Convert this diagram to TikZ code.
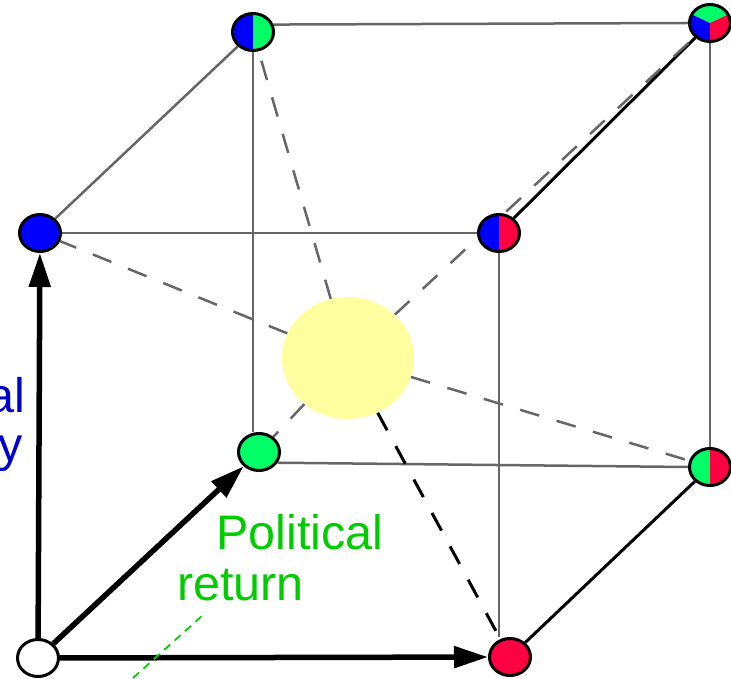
\documentclass[tikz,border=0pt]{standalone}
\usepackage{fontspec}
\setmainfont{Liberation Sans}
\usetikzlibrary{shapes.geometric,arrows.meta}
\definecolor{vblue}{RGB}{0,0,255}
\definecolor{vgreen}{RGB}{0,255,102}
\definecolor{vred}{RGB}{255,0,64}
\definecolor{sunyellow}{RGB}{255,255,160}
\definecolor{edgegray}{RGB}{102,102,102}
\definecolor{txtgreen}{RGB}{0,204,0}
\definecolor{txtblue}{RGB}{0,0,204}
\pgfdeclarelayer{bg}
\pgfsetlayers{bg,main}
\begin{document}
\begin{tikzpicture}[x=1pt, y=1pt, >={Triangle[length=34pt,width=21pt]},
		vertex/.style={ellipse, draw, line width=3pt, minimum width=41pt, minimum height=37pt, inner sep=0pt},
		halves/.style 2 args={path picture={
				\fill[#1] (path picture bounding box.south west) rectangle (path picture bounding box.north);
				\fill[#2] (path picture bounding box.south) rectangle (path picture bounding box.north east);}},
		thirds/.style={path picture={
				\fill[vgreen] (path picture bounding box.center) -- +(155:40) -- +(90:40) -- +(25:40) -- cycle;
				\fill[vblue] (path picture bounding box.center) -- +(155:40) -- +(210:40) -- +(270:40) -- cycle;
				\fill[vred] (path picture bounding box.center) -- +(270:40) -- +(330:40) -- +(25:40) -- cycle;}},
		edge/.style={edgegray, line width=2.5pt},
		rim/.style={black, line width=3pt},
		spoke/.style={edgegray, line width=2.5pt, dash pattern=on 20pt off 18pt},
		axis/.style={->, line width=5.5pt},
		lbl/.style={inner sep=0pt, font=\fontsize{48.5}{58}\selectfont}]
	\useasboundingbox (0,0) rectangle (731,678);
	\node[fill=sunyellow, ellipse, minimum width=132pt, minimum height=122pt, inner sep=0pt] (sun) at (348,320) {};
	\node[vertex, fill=white] (w) at (38,20) {};
	\node[vertex, fill=vred] (r) at (510,21) {};
	\node[vertex, fill=vblue] (b) at (40,445) {};
	\node[vertex, halves={vblue}{vred}] (br) at (499,445) {};
	\node[vertex, fill=vgreen] (g) at (259,226) {};
	\node[vertex, halves={vgreen}{vred}] (gr) at (710,211) {};
	\node[vertex, halves={vblue}{vgreen}] (bg) at (253,646) {};
	\node[vertex, thirds] (tri) at (710,655) {};
	\begin{pgfonlayer}{bg}
		\draw[edge] (b) -- (bg);
		\draw[edge] (b) -- (br);
		\draw[edge] (bg.20) -- (tri.west);
		\draw[edge] (bg) -- (bg |- g.north);
		\draw[edge] (tri) -- (gr);
		\draw[edge] (g.-30) -- (gr.west);
		\draw[edge] (br) -- (br |- r.north);
		\draw[rim] (br) -- (tri);
		\draw[rim] (gr) -- (r);
		\foreach \v in {b, bg, tri, g, gr}
			\draw[spoke] (sun) -- (\v);
		\draw[spoke, black, line width=3pt] (sun) -- (r);
		\draw[axis] (w) -- (b);
		\draw[axis] (w) -- (g);
		\draw[axis] (w) -- (r);
		\coordinate (ptrA) at (133,0);
		\coordinate (ptrB) at (203,63);
		\draw[txtgreen, line width=1.8pt, dash pattern=on 8pt off 6pt] (ptrA) -- (ptrB);
	\end{pgfonlayer}
	\node[lbl, txtgreen, anchor=base west] (polit) at (216,129) {Political};
	\node[lbl, txtgreen, anchor=base west] (ret) at (177,78) {return};
	\node[lbl, txtblue, anchor=base east] (alpart) at (25,265) {al};
	\node[lbl, txtblue, anchor=base east] (ypart) at (23,216) {y};
\end{tikzpicture}
\end{document}
